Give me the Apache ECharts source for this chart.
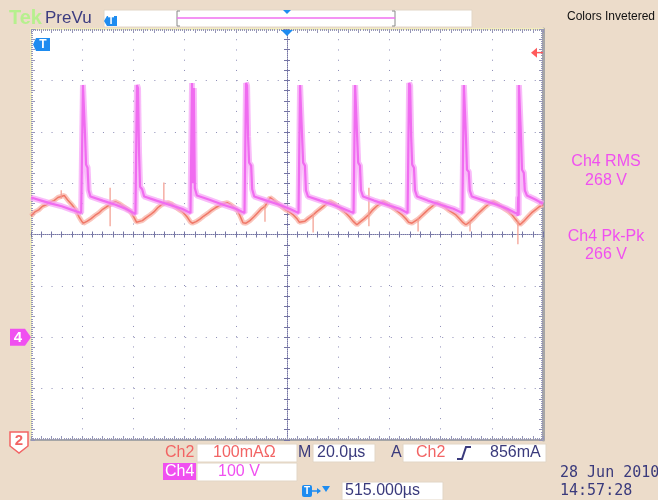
<!DOCTYPE html>
<html>
<head>
<meta charset="utf-8">
<style>
  html, body { margin: 0; padding: 0; background: #ECDCCA; }
  #chart { width: 658px; height: 500px; }
</style>
</head>
<body>
<div id="chart"></div>
<script src="https://cdn.jsdelivr.net/npm/echarts@6.0.0/dist/echarts.min.js"></script>
<script>
// ===== Data =====
// x: µs from screen centre (10 div x 20.0 µs), y: divisions from screen centre
const timeRange = [-100, 100];
const divRange = [-4, 4];

// Ch4 (magenta, 100 V/div)
const ch4Trace = [
  [-100, 0.72], [-96, 0.66], [-92, 0.60], [-88, 0.55], [-84, 0.48], [-80.4, 0.42],
  [-79.9, 0.40], [-79.7, 2.91], [-79.3, 2.88], [-78.9, 1.95], [-78.5, 1.36], [-77.9, 1.30], [-77.5, 0.86], [-76.8, 0.74],
  [-72, 0.66], [-67, 0.58], [-63, 0.50], [-59.2, 0.40],
  [-58.8, 0.38], [-58.6, 2.91], [-58.2, 2.85], [-57.8, 1.60], [-57.4, 0.93], [-56.6, 0.88], [-55.8, 0.74],
  [-51, 0.66], [-46, 0.58], [-41, 0.50], [-37.7, 0.42],
  [-37.3, 0.40], [-37.1, 2.95], [-36.8, 1.00], [-36.4, 2.85], [-36.0, 0.90], [-35.2, 0.76],
  [-30, 0.67], [-25, 0.58], [-20, 0.50], [-16.6, 0.42],
  [-16.2, 0.40], [-16.0, 2.95], [-15.6, 2.90], [-15.2, 1.90], [-14.8, 1.40], [-14.0, 1.34], [-13.6, 0.88], [-12.8, 0.74],
  [-8, 0.66], [-3, 0.58], [1, 0.50], [4.5, 0.42],
  [4.9, 0.40], [5.1, 2.91], [5.5, 2.88], [5.9, 1.90], [6.3, 1.40], [7.0, 1.34], [7.4, 0.86], [8.2, 0.74],
  [13, 0.66], [18, 0.58], [22, 0.50], [26.0, 0.42],
  [26.4, 0.40], [26.6, 2.91], [27.0, 2.88], [27.4, 1.90], [27.8, 1.40], [28.5, 1.34], [28.9, 0.86], [29.7, 0.74],
  [34, 0.66], [39, 0.58], [44, 0.50], [47.1, 0.42],
  [47.5, 0.40], [47.7, 2.95], [48.1, 2.90], [48.5, 1.90], [48.9, 1.36], [49.6, 1.30], [50.0, 0.86], [50.8, 0.74],
  [55, 0.66], [60, 0.58], [65, 0.50], [68.5, 0.42],
  [68.9, 0.40], [69.1, 2.91], [69.5, 2.88], [69.9, 1.90], [70.3, 1.26], [71.0, 1.22], [71.4, 0.86], [72.2, 0.74],
  [77, 0.66], [82, 0.58], [86, 0.50], [90.0, 0.40],
  [90.1, 0.36], [90.3, 0.74], [90.5, 0.38], [90.6, 2.91], [91.0, 2.88], [91.4, 1.90], [91.8, 1.26], [92.5, 1.20], [92.9, 0.86], [93.7, 0.76],
  [97, 0.68], [100, 0.60]
];

// Ch2 (salmon, 100 mA/div)
const ch2Trace = [
  [-100, 0.36], [-98.5, 0.44], [-97, 0.48], [-95.5, 0.55], [-94, 0.58], [-92.5, 0.63], [-91, 0.66], [-89.5, 0.72],
  [-88.2, 0.74], [-87, 0.76], [-85.5, 0.66], [-84, 0.58], [-82.5, 0.48], [-81.2, 0.34], [-80.2, 0.26],
  [-79.5, 0.22], [-78, 0.26], [-76.5, 0.31], [-75, 0.37], [-73.5, 0.42], [-72, 0.49], [-70.5, 0.54], [-69.1, 0.58],
  [-67.2, 0.64], [-65.5, 0.60], [-64, 0.55], [-62.5, 0.50], [-61, 0.44], [-59.6, 0.32], [-58.8, 0.24],
  [-58.2, 0.22], [-56.5, 0.27], [-55, 0.33], [-53.5, 0.38], [-52, 0.44], [-50.5, 0.52], [-49, 0.58], [-48.1, 0.60],
  [-46.5, 0.62], [-45, 0.59], [-43.5, 0.53], [-42, 0.48], [-40.5, 0.43], [-39, 0.34], [-37.8, 0.25],
  [-37.0, 0.22], [-35.5, 0.25], [-34, 0.30], [-32.5, 0.36], [-31, 0.41], [-29.5, 0.47], [-28, 0.52], [-26.5, 0.56],
  [-25, 0.60], [-23.4, 0.62], [-22, 0.58], [-20.5, 0.52], [-19, 0.44], [-17.8, 0.30], [-17.2, 0.23],
  [-16, 0.22], [-14.5, 0.27], [-13, 0.34], [-11.5, 0.42], [-10, 0.50], [-8.6, 0.55],
  [-7.5, 0.64], [-6.6, 0.72], [-5, 0.66], [-3.5, 0.60], [-2, 0.54], [-0.5, 0.48], [1, 0.44], [2.5, 0.38], [4, 0.30], [4.8, 0.24],
  [5.4, 0.22], [7, 0.26], [8.5, 0.32], [10.2, 0.38], [11.5, 0.44], [13, 0.50], [14.5, 0.56],
  [15.8, 0.62], [16.8, 0.64], [18.5, 0.60], [20, 0.54], [21.5, 0.48], [23, 0.42], [24.5, 0.34], [25.8, 0.26],
  [27.3, 0.19], [28.5, 0.24], [30, 0.30], [32.0, 0.39], [33.5, 0.48], [35, 0.55],
  [36.3, 0.60], [37.5, 0.64], [39, 0.60], [40.5, 0.55], [42, 0.50], [43.5, 0.44], [45, 0.38], [46.5, 0.30], [47.5, 0.24],
  [48.8, 0.22], [50, 0.26], [51.2, 0.30], [52.5, 0.36], [54, 0.43], [55.5, 0.50], [57, 0.56],
  [58.6, 0.62], [60, 0.58], [61.5, 0.54], [63, 0.48], [64.5, 0.43], [66, 0.38], [67.5, 0.30], [68.8, 0.23],
  [69.9, 0.19], [71.5, 0.25], [73, 0.32], [74.5, 0.40], [76, 0.47], [77.5, 0.54], [79, 0.60],
  [80.5, 0.64], [82, 0.60], [83.5, 0.55], [85, 0.50], [86.5, 0.45], [88, 0.38], [89.2, 0.30], [90.2, 0.24],
  [91.0, 0.19], [92.5, 0.26], [94, 0.34], [95.5, 0.42], [97, 0.48], [98.5, 0.54], [100, 0.58]
];

// Ch2 noise glitches: [time, low, high] in div
const ch2Glitches = [
  [-88.2, 0.70, 0.86], [-69.1, 0.16, 0.91], [-48.1, 0.56, 1.01], [-8.6, 0.25, 0.56],
  [10.2, 0.04, 0.40], [32.0, 0.16, 0.91], [51.2, 0.06, 0.32], [71.5, 0.06, 0.27], [90.2, -0.19, 0.26]
];

const ch4Ground = -2;      // div
const trigLevel = 3.54;    // div (red arrow, right edge)
const trigTime = 0;        // µs (blue triangle, top edge)
const readouts = [['Ch4 RMS', '268 V'], ['Ch4 Pk-Pk', '266 V']];
const ch2Scale = '100mAΩ';
const ch4Scale = '100 V';
const timeScale = '20.0µs';
const trigValue = '856mA';
const trigPos = '515.000µs';
const dateText = '28 Jun 2010';
const timeText = '14:57:28';

// ===== Colours =====
const NAVY = '#3A3A7C';
const SALMON = '#F26464';
const MAGENTA = '#F050F0';
const DOTS = '#8C8CB6';
const CENTRE = '#7474A4';
const TICK = '#9696B8';
const BLUE = '#1E8CF0';
const FONT = '"Liberation Sans", Arial, sans-serif';

// glitches become short vertical strokes, broken apart with '-'
const glitchData = [];
ch2Glitches.forEach(g => { glitchData.push([g[0], g[1]], [g[0], g[2]], [g[0], '-']); });

// ===== Axes =====
const off = { axisLabel: { show: false }, splitLine: { show: false } };

function rulerX(pos, color, width) {
  return Object.assign({
    type: 'value', min: timeRange[0], max: timeRange[1], interval: 4, position: pos,
    axisLine: { show: true, onZero: false, lineStyle: { color: color, width: width } },
    axisTick: { show: true, inside: true, length: 4, lineStyle: { color: TICK } },
    minorTick: { show: true, splitNumber: 5, length: 2, lineStyle: { color: TICK } }
  }, off);
}
function rulerY(pos, color, width) {
  return Object.assign({
    type: 'value', min: divRange[0], max: divRange[1], interval: 0.2, position: pos,
    axisLine: { show: true, onZero: false, lineStyle: { color: color, width: width } },
    axisTick: { show: true, inside: true, length: 4, lineStyle: { color: TICK } },
    minorTick: { show: true, splitNumber: 5, length: 2, lineStyle: { color: TICK } }
  }, off);
}
function centreX(inside) {
  return Object.assign({
    type: 'value', min: timeRange[0], max: timeRange[1], interval: 4, position: 'bottom',
    axisLine: { show: true, onZero: true, onZeroAxisIndex: 0, lineStyle: { color: CENTRE, type: [1, 1], opacity: inside ? 1 : 0 } },
    axisTick: { show: true, inside: inside, length: 3, lineStyle: { color: CENTRE } }
  }, off);
}
function centreY(inside) {
  return Object.assign({
    type: 'value', min: divRange[0], max: divRange[1], interval: 0.2, position: 'left',
    axisLine: { show: true, onZero: true, onZeroAxisIndex: 0, lineStyle: { color: CENTRE, type: [1, 1], opacity: inside ? 1 : 0 } },
    axisTick: { show: true, inside: inside, length: 3, lineStyle: { color: CENTRE } }
  }, off);
}

const chart = echarts.init(document.getElementById('chart'), null, { renderer: 'canvas' });

chart.setOption({
  animation: false,
  backgroundColor: '#ECDCCA',
  grid: { left: 31, top: 29, width: 512, height: 411, backgroundColor: '#FFFFFF', show: true, borderWidth: 0 },
  xAxis: [
    {
      type: 'value', min: timeRange[0], max: timeRange[1], interval: 20,
      axisLine: { show: false, onZero: false }, axisTick: { show: false }, axisLabel: { show: false },
      splitLine: { show: true, lineStyle: { color: DOTS, width: 1, type: [1, 9.24] } }
    },
    centreX(true), centreX(false),
    rulerX('top', '#F2EDBE', 2), rulerX('bottom', '#A6A6A6', 2)
  ],
  yAxis: [
    {
      type: 'value', min: divRange[0], max: divRange[1], interval: 1,
      axisLine: { show: false, onZero: false }, axisTick: { show: false }, axisLabel: { show: false },
      splitLine: { show: true, lineStyle: { color: DOTS, width: 1, type: [1, 9.28] } }
    },
    centreY(true), centreY(false),
    rulerY('left', '#F2EDBE', 2), rulerY('right', '#A6A6A6', 3)
  ],
  series: [
    { type: 'line', data: ch2Trace, showSymbol: false, silent: true, z: 3,
      lineStyle: { color: '#F8B2A6', width: 5, opacity: 0.75 } },
    { type: 'line', data: ch2Trace, showSymbol: false, silent: true, z: 4,
      lineStyle: { color: '#F07868', width: 1.5 } },
    { type: 'line', data: glitchData, showSymbol: false, silent: true, z: 4, connectNulls: false,
      lineStyle: { color: '#F39A8C', width: 1.2 } },
    { type: 'line', data: ch4Trace, showSymbol: false, silent: true, z: 5,
      lineStyle: { color: '#F6A0F6', width: 6, opacity: 0.7 } },
    { type: 'line', data: ch4Trace, showSymbol: false, silent: true, z: 6,
      lineStyle: { color: '#F06CF0', width: 2.2 } }
  ]
});

// ===== Screen decorations =====
function txt(text, x, y, fill, size, opts) {
  return { type: 'text', z: 20, style: Object.assign({
    text: text, x: x, y: y, fill: fill, font: size + 'px ' + FONT,
    align: 'left', verticalAlign: 'middle'
  }, opts || {}) };
}
function box(x, y, w, h, fill) {
  return { type: 'rect', z: 15, shape: { x: x, y: y, width: w, height: h },
    style: { fill: fill || '#FFFFFF', stroke: '#E2D6C6', lineWidth: 1 } };
}
function poly(points, fill, stroke) {
  return { type: 'polygon', z: 18, shape: { points: points },
    style: { fill: fill, stroke: stroke || null, lineWidth: stroke ? 1.5 : 0 } };
}
function line(points, color, width) {
  return { type: 'polyline', z: 18, shape: { points: points },
    style: { stroke: color, lineWidth: width || 1, fill: null } };
}

const p4 = chart.convertToPixel({ gridIndex: 0 }, [0, ch4Ground]);
const pTrig = chart.convertToPixel({ gridIndex: 0 }, [trigTime, trigLevel]);
const cy4 = p4[1];
const tx = pTrig[0];
const ty = pTrig[1];

const graphic = [
  // top bar
  txt('Tek', 9, 18, '#B6F08E', 20, { font: 'bold 20px ' + FONT }),
  txt('PreVu', 45, 18, '#3C3C80', 17),
  box(104, 10, 368, 17),
  poly([[104, 21], [107, 16], [117, 16], [117, 26], [107, 26]], BLUE),
  txt('T', 111, 21.5, '#FFFFFF', 10, { font: 'bold 10px ' + FONT, align: 'center' }),
  line([[180, 11], [177, 11], [177, 26], [180, 26]], '#888888', 1),
  line([[392, 11], [395, 11], [395, 26], [392, 26]], '#888888', 1),
  line([[177, 18], [395, 18]], '#F070F0', 1.5),
  poly([[283, 10], [291, 10], [287, 14]], BLUE),
  txt('Colors Invetered', 567, 17, '#111111', 12),

  // trigger position and level markers
  poly([[tx - 6, 30], [tx + 6, 30], [tx, 36]], BLUE),
  poly([[531, ty], [537, ty - 5], [537, ty + 5]], '#FF5A5A'),
  line([[537, ty], [543, ty]], '#FF5A5A', 1.5),
  poly([[33, 44.5], [36, 38], [50, 38], [50, 51], [36, 51]], BLUE),
  txt('T', 43, 45, '#FFFFFF', 12, { font: 'bold 12px ' + FONT, align: 'center' }),

  // channel ground markers
  poly([[10, cy4 - 8.5], [25, cy4 - 8.5], [31, cy4], [25, cy4 + 8.5], [10, cy4 + 8.5]], MAGENTA),
  txt('4', 18, cy4 + 0.5, '#FFFFFF', 15, { font: 'bold 15px ' + FONT, align: 'center' }),
  poly([[10, 432], [28, 432], [28, 446], [19, 453], [10, 446]], '#FFFFFF', SALMON),
  txt('2', 19, 441, SALMON, 15, { font: 'bold 15px ' + FONT, align: 'center' }),

  // measurements
  txt(readouts[0][0], 606, 162, MAGENTA, 16, { align: 'center' }),
  txt(readouts[0][1], 606, 181, MAGENTA, 16, { align: 'center' }),
  txt(readouts[1][0], 606, 237, MAGENTA, 16, { align: 'center' }),
  txt(readouts[1][1], 606, 255, MAGENTA, 16, { align: 'center' }),

  // status row 1
  txt('Ch2', 165, 453, SALMON, 16),
  box(197, 444, 100, 18),
  txt(ch2Scale, 213, 453, SALMON, 16),
  txt('M', 298, 453, NAVY, 16),
  box(313, 444, 62, 18),
  txt(timeScale, 317, 453, NAVY, 16),
  txt('A', 391, 453, NAVY, 16),
  box(403, 444, 143, 18),
  txt('Ch2', 416, 453, SALMON, 16),
  line([[457, 459], [462, 459], [466, 447], [471, 447]], NAVY, 2),
  txt(trigValue, 490, 453, NAVY, 16),

  // status row 2
  { type: 'rect', z: 15, shape: { x: 163, y: 463, width: 33, height: 17 }, style: { fill: MAGENTA } },
  txt('Ch4', 165, 472, '#FFFFFF', 16),
  box(197, 463, 100, 18),
  txt(ch4Scale, 218, 472, MAGENTA, 16),

  // status row 3
  { type: 'rect', z: 15, shape: { x: 302, y: 485, width: 10, height: 12, r: 2 }, style: { fill: BLUE } },
  txt('T', 307, 491.5, '#FFFFFF', 10, { font: 'bold 10px ' + FONT, align: 'center' }),
  line([[312, 491], [320, 491]], BLUE, 1.5),
  poly([[317, 488], [321, 491], [317, 494]], BLUE),
  poly([[322, 486], [330, 486], [326, 492]], BLUE),
  box(342, 482, 101, 18),
  txt(trigPos, 345, 491, NAVY, 16),

  // date / time
  txt(dateText, 560, 473, NAVY, 15, { font: '15px "DejaVu Sans Mono", monospace' }),
  txt(timeText, 560, 491, NAVY, 15, { font: '15px "DejaVu Sans Mono", monospace' })
];

chart.setOption({ graphic: graphic });
</script>
</body>
</html>
